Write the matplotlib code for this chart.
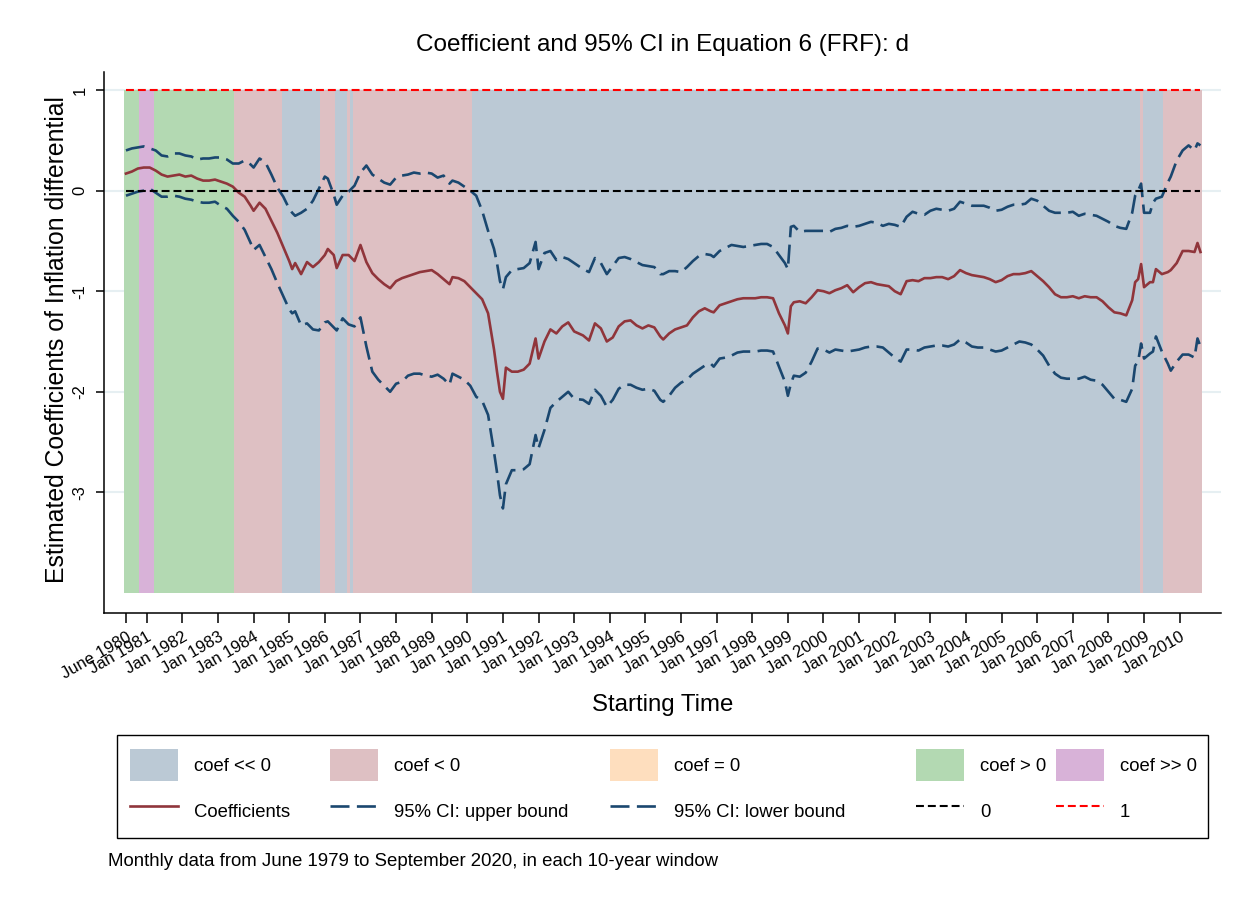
import numpy as np
import matplotlib
matplotlib.use('Agg')
import matplotlib.pyplot as plt
from matplotlib.patches import Patch, Rectangle

plt.rcParams['font.family'] = ['Liberation Sans', 'DejaVu Sans']

# starting month of each 10-year window, counted in months since June 1980
months = [0, 2, 4, 6, 8, 10, 12, 14, 16, 18,
          20, 22, 24, 26, 28, 30, 32, 34, 36, 38,
          40, 42, 43, 45, 47, 49, 51, 53, 55, 56,
          57, 59, 61, 63, 65, 67, 68, 70, 71, 73,
          75, 77, 79, 81, 83, 85, 87, 89, 91, 93,
          95, 97, 99, 101, 103, 105, 107, 109, 110, 112,
          114, 116, 118, 120, 122, 124, 125, 126, 127, 128,
          130, 132, 134, 136, 138, 139, 141, 143, 145, 147,
          149, 151, 154, 156, 158, 160, 162, 164, 166, 168,
          170, 172, 174, 176, 178, 180, 181, 183, 185, 187,
          189, 191, 193, 195, 197, 198, 200, 202, 204, 206,
          208, 210, 212, 214, 216, 218, 220, 222, 223, 224,
          225, 227, 229, 231, 233, 235, 237, 239, 241, 243,
          245, 247, 249, 251, 253, 255, 257, 259, 261, 263,
          265, 267, 269, 271, 273, 275, 277, 279, 281, 283,
          285, 287, 289, 291, 293, 295, 297, 299, 301, 303,
          305, 307, 309, 311, 313, 315, 317, 319, 321, 323,
          325, 327, 329, 331, 333, 335, 337, 339, 340, 341,
          342, 343, 345, 346, 347, 349, 351, 352, 354, 356,
          358, 360, 361, 362]

coef = [0.17, 0.19, 0.22, 0.23, 0.23, 0.20, 0.16, 0.14, 0.15, 0.16,
        0.14, 0.15, 0.12, 0.10, 0.10, 0.11, 0.09, 0.07, 0.04, -0.02,
        -0.06, -0.15, -0.20, -0.12, -0.18, -0.30, -0.42, -0.56, -0.70, -0.78,
        -0.72, -0.83, -0.71, -0.76, -0.71, -0.64, -0.58, -0.64, -0.77, -0.64,
        -0.64, -0.70, -0.54, -0.71, -0.82, -0.88, -0.93, -0.97, -0.90, -0.87,
        -0.85, -0.83, -0.81, -0.80, -0.79, -0.83, -0.88, -0.93, -0.86, -0.87,
        -0.90, -0.96, -1.02, -1.08, -1.22, -1.58, -1.80, -2.00, -2.07, -1.76,
        -1.80, -1.80, -1.78, -1.72, -1.47, -1.67, -1.50, -1.38, -1.42, -1.35,
        -1.31, -1.40, -1.44, -1.49, -1.32, -1.37, -1.50, -1.46, -1.35, -1.30,
        -1.29, -1.34, -1.37, -1.34, -1.36, -1.45, -1.48, -1.42, -1.38, -1.36,
        -1.34, -1.26, -1.20, -1.17, -1.20, -1.21, -1.14, -1.12, -1.10, -1.08,
        -1.07, -1.07, -1.07, -1.06, -1.06, -1.07, -1.22, -1.34, -1.42, -1.15,
        -1.11, -1.10, -1.12, -1.06, -0.99, -1.00, -1.02, -0.99, -0.97, -0.94,
        -1.01, -0.96, -0.92, -0.91, -0.93, -0.94, -0.95, -1.00, -1.03, -0.90,
        -0.89, -0.90, -0.87, -0.87, -0.86, -0.86, -0.88, -0.85, -0.79, -0.82,
        -0.84, -0.85, -0.86, -0.88, -0.91, -0.89, -0.85, -0.83, -0.83, -0.82,
        -0.80, -0.85, -0.90, -0.96, -1.03, -1.06, -1.06, -1.05, -1.07, -1.05,
        -1.06, -1.06, -1.10, -1.16, -1.21, -1.22, -1.24, -1.09, -0.91, -0.88,
        -0.73, -0.96, -0.91, -0.91, -0.78, -0.83, -0.81, -0.79, -0.72, -0.60,
        -0.60, -0.61, -0.52, -0.61]

ci_upper = [0.40, 0.42, 0.43, 0.44, 0.42, 0.40, 0.35, 0.34, 0.37, 0.37,
            0.35, 0.34, 0.31, 0.32, 0.32, 0.33, 0.33, 0.31, 0.27, 0.27,
            0.30, 0.26, 0.23, 0.32, 0.28, 0.16, 0.03, -0.06, -0.18, -0.22,
            -0.25, -0.22, -0.18, -0.10, 0.02, 0.14, 0.12, -0.04, -0.14, -0.05,
            -0.01, 0.05, 0.18, 0.25, 0.16, 0.12, 0.08, 0.06, 0.13, 0.15,
            0.16, 0.18, 0.17, 0.18, 0.17, 0.13, 0.15, 0.07, 0.10, 0.08,
            0.04, 0.00, -0.05, -0.20, -0.40, -0.58, -0.72, -0.90, -0.98, -0.86,
            -0.79, -0.78, -0.77, -0.72, -0.51, -0.78, -0.62, -0.60, -0.69, -0.66,
            -0.68, -0.72, -0.78, -0.81, -0.67, -0.72, -0.83, -0.75, -0.67, -0.66,
            -0.68, -0.71, -0.74, -0.75, -0.76, -0.83, -0.83, -0.80, -0.80, -0.81,
            -0.76, -0.70, -0.65, -0.63, -0.64, -0.66, -0.60, -0.57, -0.54, -0.55,
            -0.56, -0.55, -0.54, -0.53, -0.53, -0.56, -0.64, -0.72, -0.78, -0.36,
            -0.35, -0.41, -0.40, -0.40, -0.40, -0.40, -0.41, -0.38, -0.37, -0.35,
            -0.36, -0.35, -0.33, -0.31, -0.32, -0.35, -0.33, -0.34, -0.36, -0.26,
            -0.21, -0.23, -0.24, -0.20, -0.18, -0.19, -0.20, -0.18, -0.11, -0.13,
            -0.15, -0.15, -0.15, -0.17, -0.20, -0.19, -0.16, -0.14, -0.14, -0.13,
            -0.08, -0.10, -0.15, -0.20, -0.22, -0.22, -0.22, -0.21, -0.25, -0.23,
            -0.24, -0.25, -0.28, -0.31, -0.35, -0.37, -0.38, -0.22, -0.05, 0.00,
            0.07, -0.22, -0.22, -0.12, -0.08, -0.06, 0.08, 0.14, 0.30, 0.40,
            0.45, 0.40, 0.47, 0.45]

ci_lower = [-0.05, -0.03, -0.01, 0.00, 0.02, -0.02, -0.06, -0.06, -0.05, -0.06,
            -0.08, -0.09, -0.11, -0.12, -0.12, -0.11, -0.15, -0.18, -0.25, -0.31,
            -0.39, -0.52, -0.59, -0.54, -0.66, -0.78, -0.92, -1.05, -1.18, -1.22,
            -1.20, -1.34, -1.32, -1.38, -1.39, -1.31, -1.30, -1.36, -1.39, -1.27,
            -1.33, -1.35, -1.26, -1.55, -1.80, -1.88, -1.94, -2.00, -1.92, -1.90,
            -1.84, -1.82, -1.82, -1.84, -1.85, -1.83, -1.87, -1.93, -1.82, -1.85,
            -1.88, -1.94, -2.05, -2.09, -2.23, -2.60, -2.80, -3.03, -3.16, -2.92,
            -2.78, -2.78, -2.77, -2.72, -2.43, -2.56, -2.38, -2.16, -2.10, -2.05,
            -2.00, -2.07, -2.08, -2.12, -1.98, -2.04, -2.15, -2.08, -1.97, -1.93,
            -1.93, -1.96, -1.98, -1.97, -1.99, -2.08, -2.10, -2.04, -1.96, -1.91,
            -1.88, -1.82, -1.78, -1.74, -1.72, -1.75, -1.67, -1.66, -1.64, -1.61,
            -1.60, -1.60, -1.60, -1.59, -1.59, -1.60, -1.75, -1.90, -2.04, -1.92,
            -1.84, -1.85, -1.81, -1.70, -1.57, -1.58, -1.61, -1.58, -1.59, -1.60,
            -1.59, -1.58, -1.56, -1.55, -1.55, -1.56, -1.61, -1.66, -1.70, -1.58,
            -1.58, -1.59, -1.56, -1.55, -1.54, -1.54, -1.55, -1.53, -1.48, -1.51,
            -1.55, -1.56, -1.56, -1.58, -1.60, -1.59, -1.56, -1.53, -1.50, -1.51,
            -1.53, -1.58, -1.64, -1.74, -1.82, -1.86, -1.87, -1.87, -1.87, -1.85,
            -1.88, -1.89, -1.93, -2.00, -2.07, -2.08, -2.10, -1.97, -1.74, -1.70,
            -1.52, -1.67, -1.62, -1.60, -1.45, -1.60, -1.72, -1.79, -1.70, -1.63,
            -1.63, -1.66, -1.47, -1.55]

# background blocks: first month, last month, class of the estimate
block_first = [0, 5, 10, 37, 53, 66, 71, 75, 76, 77, 117, 342, 343, 350]
block_last = [4, 9, 36, 52, 65, 70, 74, 75, 76, 116, 341, 342, 349, 362]
block_class = ['gt', 'gg', 'gt', 'lt', 'll', 'lt', 'll', 'lt', 'll', 'lt', 'll', 'lt', 'll', 'lt']

class_keys = ['ll', 'lt', 'eq', 'gt', 'gg']
class_labels = ['coef << 0', 'coef < 0', 'coef = 0', 'coef > 0', 'coef >> 0']
class_colors = ['#bbc9d5', '#dec0c3', '#fedebe', '#b3d9b2', '#d8b2d8']

tick_years = list(range(1981, 2011))


def to_year(m):
    # months since June 1980 -> decimal year
    return 1980 + 5 / 12. + np.asarray(m, dtype=float) / 12.


W, H = 1249, 905
fig = plt.figure(figsize=(W / 100., H / 100.), dpi=100)
ax = fig.add_axes([104 / W, 1 - 613 / H, (1221 - 104) / W, (613 - 72) / H])

color_of = dict(zip(class_keys, class_colors))
for first, last, cls in zip(block_first, block_last, block_class):
    left = to_year(first - 0.5)
    right = to_year(last + 0.5)
    ax.bar((left + right) / 2, 5, width=right - left, bottom=-4,
           color=color_of[cls], linewidth=0, zorder=1)

t = to_year(months)
l_coef, = ax.plot(t, coef, color='#90353b', lw=1.9, zorder=3)
l_up, = ax.plot(t, ci_upper, color='#1a476f', lw=1.9, dashes=(7.2, 2.8), zorder=3)
l_lo, = ax.plot(t, ci_lower, color='#1a476f', lw=1.9, dashes=(7.2, 2.8), zorder=3)
l_zero, = ax.plot(t, np.zeros(len(t)), color='black', lw=1.5, dashes=(3.8, 1.9), zorder=4)
l_one, = ax.plot(t, np.ones(len(t)), color='red', lw=1.5, dashes=(3.8, 1.9), zorder=4)

ax.set_xlim(1979.80, 2011.16)
ax.set_ylim(-4.2, 1.18)
ax.set_xticks([float(to_year(0))] + tick_years)
ax.set_xticklabels(['June 1980'] + ['Jan %d' % y for y in tick_years],
                   rotation=30, ha='right', va='top', rotation_mode='anchor', fontsize=12)
ax.set_yticks([1, 0, -1, -2, -3])
ax.set_yticklabels(['1', '0', '-1', '-2', '-3'], rotation=90, va='center', fontsize=12)
ax.tick_params(axis='x', length=7, width=1.1, pad=5)
ax.tick_params(axis='y', length=6, width=1.1, pad=6)
ax.yaxis.grid(True, color='#e6eff2', lw=1.5, zorder=0)
ax.set_axisbelow(True)
for side in ['top', 'right']:
    ax.spines[side].set_visible(False)
for side in ['left', 'bottom']:
    ax.spines[side].set_linewidth(1.1)

fig.text((104 + 1221) / 2 / W, 1 - 45 / H, 'Coefficient and 95% CI in Equation 6 (FRF): d',
         ha='center', va='center', fontsize=17.5)
fig.text((104 + 1221) / 2 / W, 1 - 705 / H, 'Starting Time',
         ha='center', va='center', fontsize=17.3)
fig.text(57 / W, 1 - 340 / H, 'Estimated Coefficients of Inflation differential',
         ha='center', va='center', rotation=90, fontsize=17.8)
fig.text(108 / W, 1 - 861 / H, 'Monthly data from June 1979 to September 2020, in each 10-year window',
         ha='left', va='center', fontsize=13.4)

# legend: five columns, each with a shading class and a line
patches = [Patch(facecolor=c, edgecolor='none') for c in class_colors]
lines = [l_coef, l_up, l_lo, l_zero, l_one]
line_labels = ['Coefficients', '95% CI: upper bound', '95% CI: lower bound', '0', '1']
col_x = [130, 330, 610, 916, 1056]
for x0, p, pl, ln, ll in zip(col_x, patches, class_labels, lines, line_labels):
    fig.legend([p, ln], [pl, ll], loc='upper left',
               bbox_to_anchor=(x0 / W, 1 - 749 / H), bbox_transform=fig.transFigure,
               frameon=False, borderpad=0, borderaxespad=0, fontsize=13.3,
               handlelength=2.6, handleheight=2.29, handletextpad=0.87, labelspacing=0.76)
fig.add_artist(Rectangle((117 / W, 1 - 838 / H), (1208 - 117) / W, (838 - 735) / H,
                         transform=fig.transFigure, fill=False, lw=1.0, ec='black'))

fig.savefig('out.png', dpi=100)
